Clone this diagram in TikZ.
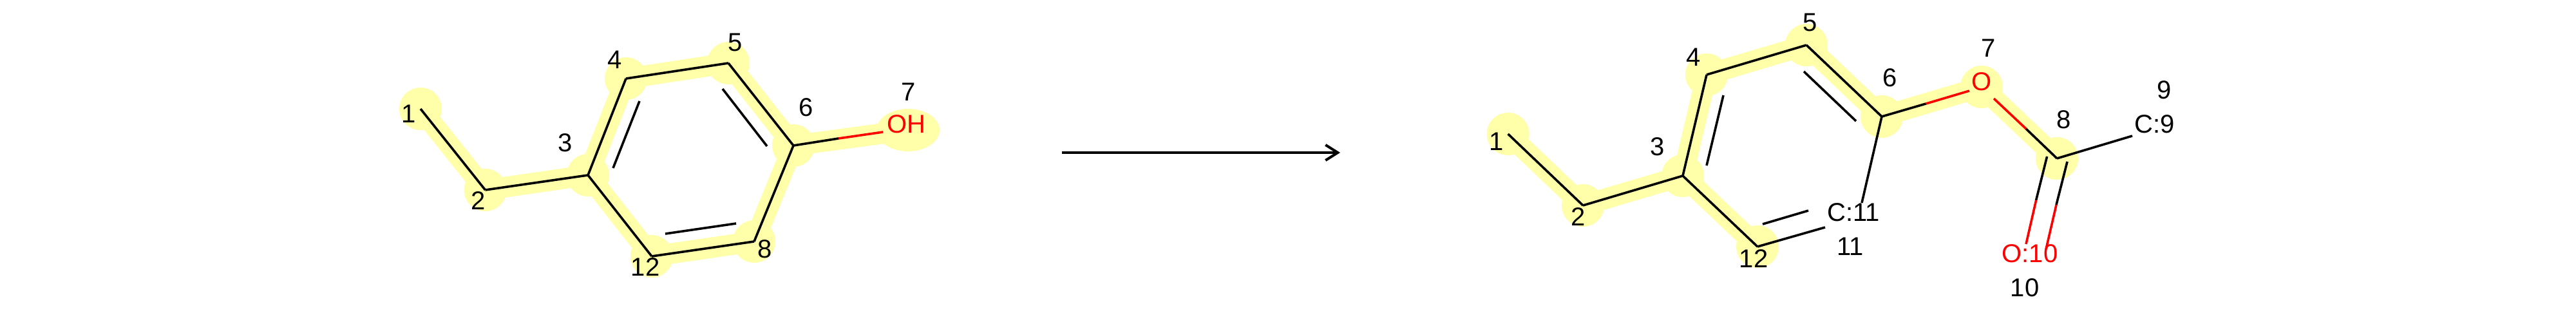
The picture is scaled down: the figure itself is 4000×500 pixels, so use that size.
\documentclass[tikz,border=0pt]{standalone}
\usepackage{fontspec}
\setmainfont{Liberation Sans}
\usetikzlibrary{arrows.meta}
\definecolor{hl}{RGB}{255,255,170}
\definecolor{oxy}{RGB}{255,0,0}
\tikzset{
  hlbond/.style={draw=hl,line width=32pt,line cap=round},
  bond/.style={draw=black,line width=3.6pt,line cap=butt},
  rbond/.style={draw=oxy,line width=3.6pt,line cap=butt},
  lab/.style={inner sep=0pt,font=\fontsize{40}{40}\selectfont,text=black},
  rlab/.style={lab,text=oxy},
  rxn/.style={draw=black,line width=4pt,-{Straight Barb[length=19pt,width=24pt,line width=4pt]}}
}
\newcommand{\hlatom}[1]{\fill[hl] (#1) circle[radius=33pt];}
\begin{document}
\begin{tikzpicture}[x=1pt,y=-1pt]
\useasboundingbox (0,0) rectangle (4000,500);
\fill[white] (0,0) rectangle (4000,500);
% left molecule atoms
\coordinate (la1) at (653,169);
\coordinate (la2) at (753.5,295);
\coordinate (la3) at (913,272);
\coordinate (la4) at (972,122);
\coordinate (la5) at (1131,98);
\coordinate (la6) at (1232,226);
\coordinate (la7) at (1410,202);
\coordinate (la8) at (1171,375);
\coordinate (la12) at (1012,398);
\coordinate (l67s) at (1302,215);
\coordinate (l67e) at (1371,205);
\coordinate (l34a) at (993,157);
\coordinate (l34b) at (952,261);
\coordinate (l56a) at (1122,138);
\coordinate (l56b) at (1191,227);
\coordinate (l128a) at (1033,363);
\coordinate (l128b) at (1143,347);
% left highlight
\foreach \a in {la1,la2,la3,la4,la5,la6,la8,la12}{\hlatom{\a}}
\fill[hl] (la7) ellipse[x radius=49pt,y radius=33pt];
\draw[hlbond] (la1)--(la2)--(la3)--(la4)--(la5)--(la6)--(la8)--(la12)--(la3);
\draw[hlbond] (la6)--(la7);
% left bonds
\draw[bond] (la1)--(la2);
\draw[bond] (la2)--(la3);
\draw[bond] (la3)--(la4);
\draw[bond] (la4)--(la5);
\draw[bond] (la5)--(la6);
\draw[bond] (la6)--(la8);
\draw[bond] (la8)--(la12);
\draw[bond] (la12)--(la3);
\draw[bond] (la6)--(l67s);
\draw[rbond] (l67s)--(l67e);
\draw[bond] (l34a)--(l34b);
\draw[bond] (l56a)--(l56b);
\draw[bond] (l128a)--(l128b);
% left labels
\node[rlab] (lOH) at (1407,193) {OH};
\node[lab] (ln1) at (635,177) {1};
\node[lab] (ln2) at (742.5,312) {2};
\node[lab] (ln3) at (878,222) {3};
\node[lab] (ln4) at (955,93) {4};
\node[lab] (ln5) at (1142,66) {5};
\node[lab] (ln6) at (1252,167) {6};
\node[lab] (ln7) at (1411,143) {7};
\node[lab] (ln8) at (1188,387) {8};
\node[lab] (ln12) at (1002,415) {12};
% arrow
\coordinate (arrS) at (1649,237);
\coordinate (arrE) at (2081,237);
\draw[rxn] (arrS)--(arrE);
% right molecule atoms
\coordinate (ra1) at (2341.6,208);
\coordinate (ra2) at (2458,319);
\coordinate (ra3) at (2613,273);
\coordinate (ra4) at (2650,116);
\coordinate (ra5) at (2805,70);
\coordinate (ra6) at (2922,181);
\coordinate (ra7) at (3077,135);
\coordinate (ra8) at (3194,246);
\coordinate (ra12) at (2729,383);
\coordinate (r611) at (2891,315);
\coordinate (r1211) at (2834,353);
\coordinate (r1211a) at (2737,348);
\coordinate (r1211b) at (2808,327);
\coordinate (r34a) at (2676,148);
\coordinate (r34b) at (2650,257);
\coordinate (r56a) at (2801,111);
\coordinate (r56b) at (2882,188);
\coordinate (r67s) at (2990.6,161);
\coordinate (r67e) at (3058,141);
\coordinate (r78e) at (3096,153);
\coordinate (r78s) at (3146,200);
\coordinate (r89) at (3311,211);
\coordinate (c1a) at (3178.6,243);
\coordinate (c1s) at (3161.6,311);
\coordinate (c1e) at (3146,379);
\coordinate (c2a) at (3210,251);
\coordinate (c2s) at (3193,318);
\coordinate (c2e) at (3177,387);
% right highlight
\foreach \a in {ra1,ra2,ra3,ra4,ra5,ra6,ra7,ra8,ra12}{\hlatom{\a}}
\draw[hlbond] (ra1)--(ra2)--(ra3)--(ra4)--(ra5)--(ra6)--(ra7)--(ra8);
\draw[hlbond] (ra3)--(ra12);
% right bonds
\draw[bond] (ra1)--(ra2);
\draw[bond] (ra2)--(ra3);
\draw[bond] (ra3)--(ra4);
\draw[bond] (ra4)--(ra5);
\draw[bond] (ra5)--(ra6);
\draw[bond] (ra3)--(ra12);
\draw[bond] (ra6)--(r611);
\draw[bond] (ra12)--(r1211);
\draw[bond] (r1211a)--(r1211b);
\draw[bond] (r34a)--(r34b);
\draw[bond] (r56a)--(r56b);
\draw[bond] (ra6)--(r67s);
\draw[rbond] (r67s)--(r67e);
\draw[rbond] (r78e)--(r78s);
\draw[bond] (r78s)--(ra8);
\draw[bond] (ra8)--(r89);
\draw[bond] (c1a)--(c1s);
\draw[rbond] (c1s)--(c1e);
\draw[bond] (c2a)--(c2s);
\draw[rbond] (c2s)--(c2e);
% right labels
\node[rlab] (rO) at (3077,127) {O};
\node[rlab] (rO10) at (3152,394) {O:10};
\node[lab] (rC11) at (2878,330) {C:11};
\node[lab] (rC9) at (3345.5,193) {C:9};
\node[lab] (rn1) at (2324,220) {1};
\node[lab] (rn2) at (2451,337) {2};
\node[lab] (rn3) at (2574,228) {3};
\node[lab] (rn4) at (2630,89) {4};
\node[lab] (rn5) at (2811,35) {5};
\node[lab] (rn6) at (2934.5,121) {6};
\node[lab] (rn7) at (3088,75) {7};
\node[lab] (rn8) at (3205,186) {8};
\node[lab] (rn9) at (3361,140) {9};
\node[lab] (rn10) at (3144,447) {10};
\node[lab] (rn11) at (2873,383) {11};
\node[lab] (rn12) at (2723,402) {12};
\end{tikzpicture}
\end{document}
